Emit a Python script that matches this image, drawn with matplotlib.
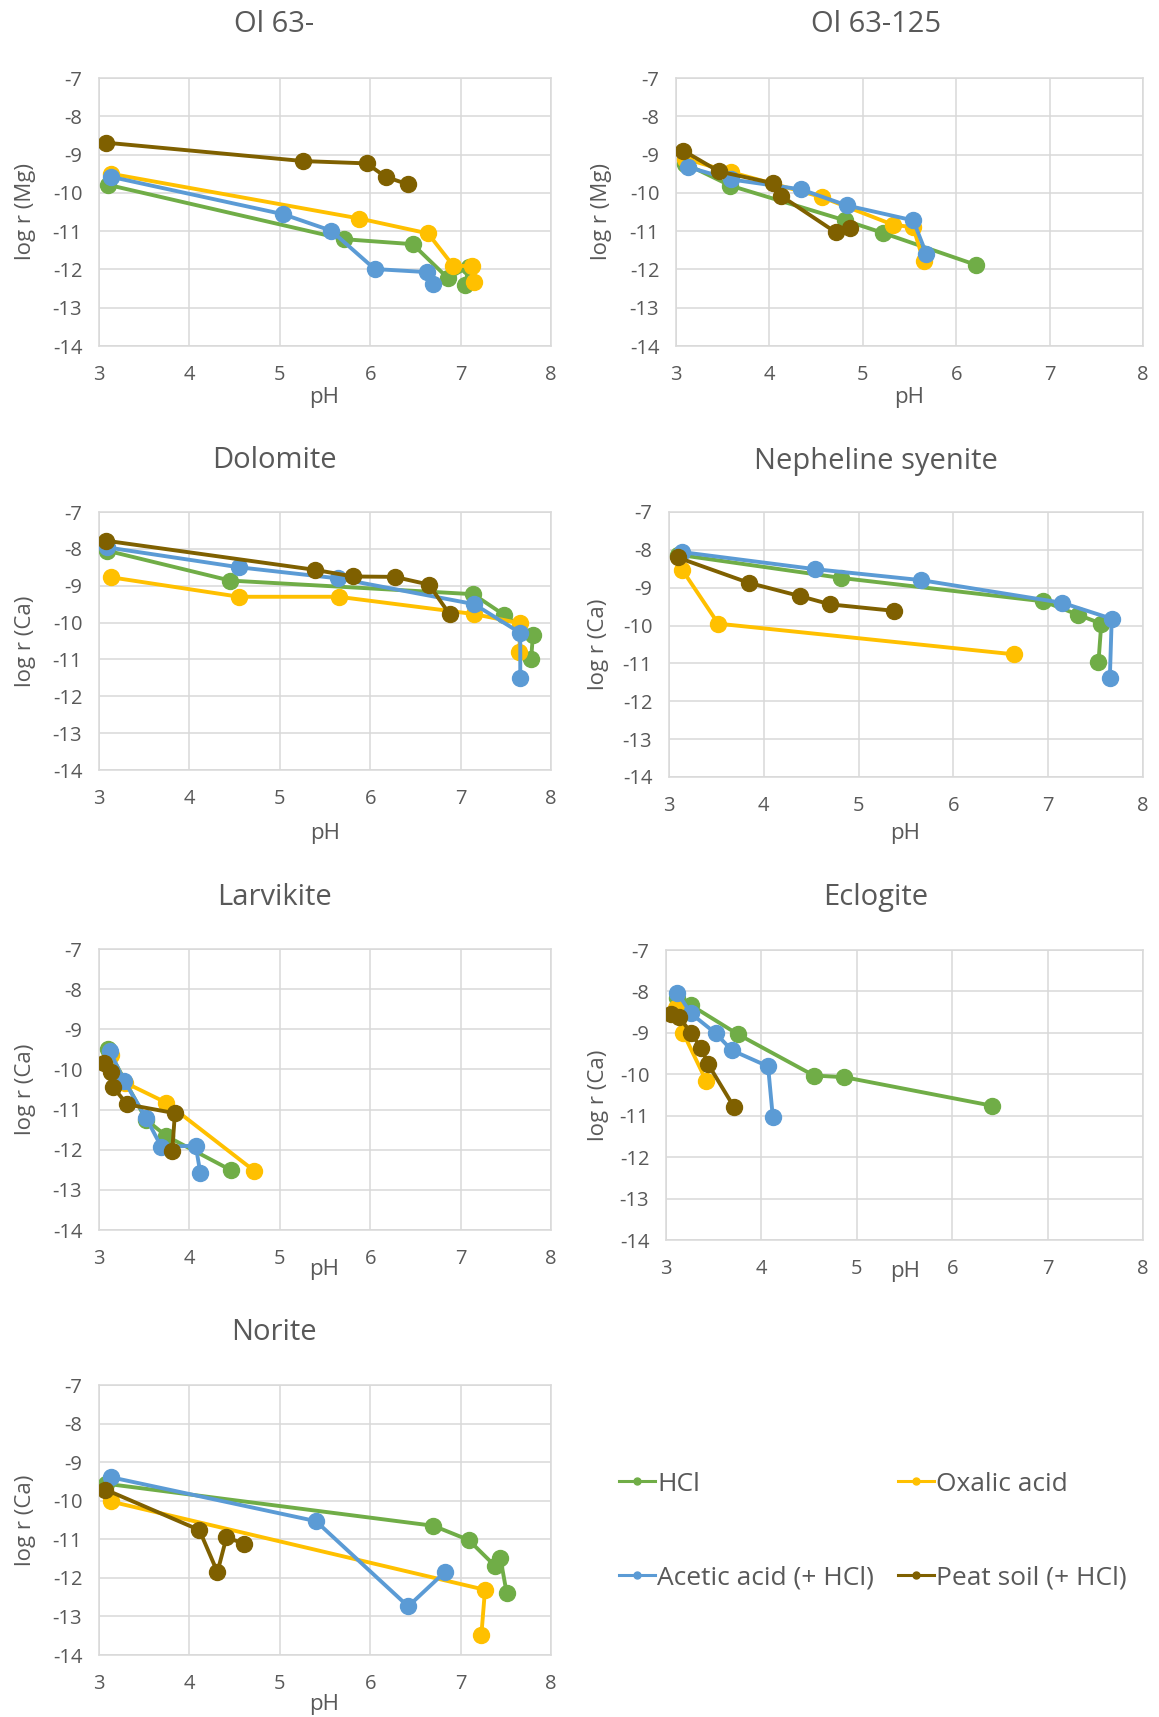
import matplotlib
matplotlib.use('Agg')
import matplotlib.pyplot as plt
from matplotlib.lines import Line2D

plt.rcParams['font.family'] = ['Open Sans', 'DejaVu Sans']
plt.rcParams['axes.unicode_minus'] = False

W, H = 1159, 1717

# series: (pH, log r)
ol63_hcl = ([3.10, 5.71, 6.47, 6.86, 7.09, 7.05], [-9.79, -11.21, -11.34, -12.23, -11.93, -12.40])
ol63_oxa = ([3.13, 5.88, 6.64, 6.92, 7.13, 7.15], [-9.50, -10.67, -11.06, -11.91, -11.91, -12.34])
ol63_ace = ([3.13, 5.04, 5.57, 6.05, 6.63, 6.70], [-9.58, -10.56, -10.99, -11.99, -12.07, -12.38])
ol63_peat = ([3.08, 5.26, 5.96, 6.17, 6.42], [-8.69, -9.17, -9.23, -9.58, -9.78])

ol125_hcl = ([3.10, 3.58, 4.81, 5.22, 6.21], [-9.24, -9.81, -10.72, -11.05, -11.88])
ol125_oxa = ([3.10, 3.59, 4.56, 5.32, 5.54, 5.65], [-9.11, -9.46, -10.11, -10.83, -10.90, -11.78])
ol125_ace = ([3.13, 3.59, 4.34, 4.83, 5.54, 5.68], [-9.33, -9.65, -9.91, -10.33, -10.72, -11.59])
ol125_peat = ([3.08, 3.46, 4.04, 4.12, 4.71, 4.86], [-8.90, -9.44, -9.75, -10.07, -11.03, -10.92])

dol_hcl = ([3.09, 4.45, 7.14, 7.48, 7.80, 7.78], [-8.05, -8.86, -9.23, -9.79, -10.35, -10.98])
dol_oxa = ([3.13, 4.55, 5.65, 7.15, 7.66, 7.65], [-8.77, -9.30, -9.30, -9.77, -10.02, -10.80])
dol_ace = ([3.09, 4.55, 5.64, 7.15, 7.66, 7.66], [-7.96, -8.50, -8.80, -9.50, -10.28, -11.50])
dol_peat = ([3.08, 5.39, 5.81, 6.27, 6.65, 6.88], [-7.78, -8.57, -8.75, -8.76, -8.97, -9.78])

nep_hcl = ([3.10, 4.81, 6.95, 7.31, 7.56, 7.53], [-8.13, -8.74, -9.36, -9.71, -9.95, -10.97])
nep_oxa = ([3.14, 3.52, 6.64], [-8.53, -9.95, -10.76])
nep_ace = ([3.14, 4.54, 5.66, 7.15, 7.67, 7.65], [-8.06, -8.51, -8.80, -9.40, -9.82, -11.39])
nep_peat = ([3.09, 3.84, 4.38, 4.70, 5.37], [-8.20, -8.87, -9.22, -9.44, -9.61])

lar_hcl = ([3.10, 3.52, 3.745, 4.46], [-9.50, -11.25, -11.66, -12.51])
lar_oxa = ([3.13, 3.29, 3.745, 4.72], [-9.65, -10.33, -10.83, -12.53])
lar_ace = ([3.12, 3.28, 3.52, 3.69, 4.07, 4.12], [-9.55, -10.29, -11.20, -11.93, -11.90, -12.57])
lar_peat = ([3.06, 3.135, 3.16, 3.31, 3.84, 3.81], [-9.85, -10.07, -10.45, -10.87, -11.09, -12.02])

ecl_hcl = ([3.12, 3.26, 3.75, 4.55, 4.87, 6.42], [-8.15, -8.33, -9.03, -10.03, -10.07, -10.76])
ecl_oxa = ([3.10, 3.18, 3.42], [-8.40, -9.00, -10.15])
ecl_ace = ([3.12, 3.26, 3.52, 3.69, 4.07, 4.12], [-8.03, -8.53, -9.01, -9.42, -9.81, -11.04])
ecl_peat = ([3.05, 3.14, 3.26, 3.37, 3.44, 3.71], [-8.55, -8.62, -9.00, -9.37, -9.75, -10.78])

nor_hcl = ([3.08, 6.70, 7.09, 7.38, 7.44, 7.51], [-9.56, -10.65, -11.02, -11.69, -11.48, -12.40])
nor_oxa = ([3.13, 7.27, 7.23], [-10.02, -12.31, -13.47])
nor_ace = ([3.13, 5.40, 6.42, 6.83], [-9.39, -10.53, -12.74, -11.84])
nor_peat = ([3.07, 4.11, 4.31, 4.41, 4.60], [-9.71, -10.76, -11.85, -10.95, -11.11])

series_names = ['HCl', 'Oxalic acid', 'Acetic acid (+ HCl)', 'Peat soil (+ HCl)']
colors = ['#70AD47', '#FFC000', '#5B9BD5', '#7F6000']

titles = ['Ol 63-', 'Ol 63-125', 'Dolomite', 'Nepheline syenite', 'Larvikite', 'Eclogite', 'Norite']
ylabels = ['log r (Mg)', 'log r (Mg)', 'log r (Ca)', 'log r (Ca)', 'log r (Ca)', 'log r (Ca)', 'log r (Ca)']
panel_data = [
    [ol63_hcl, ol63_oxa, ol63_ace, ol63_peat],
    [ol125_hcl, ol125_oxa, ol125_ace, ol125_peat],
    [dol_hcl, dol_oxa, dol_ace, dol_peat],
    [nep_hcl, nep_oxa, nep_ace, nep_peat],
    [lar_hcl, lar_oxa, lar_ace, lar_peat],
    [ecl_hcl, ecl_oxa, ecl_ace, ecl_peat],
    [nor_hcl, nor_oxa, nor_ace, nor_peat],
]

# axes boxes in pixels: left, right, top, bottom
boxes = [
    (99, 551, 78, 346), (676, 1143, 78, 346),
    (99, 551, 512, 770), (669, 1143, 512, 777),
    (99, 551, 949, 1230), (666, 1143, 950, 1240),
    (99, 551, 1385, 1655),
]
title_pos = [(274, 24), (876, 24), (274, 461), (876, 461), (274, 897), (876, 897), (274, 1332)]
ylab_x = [36, 612, 36, 609, 36, 609, 36]
ph_pos = [(324, 397), (909, 397), (325, 833), (905, 833), (324, 1269), (905, 1271), (324, 1704)]

txt = '#595959'
grid = '#D9D9D9'

fig = plt.figure(figsize=(W / 100, H / 100), dpi=100)

for i in range(7):
    l, r, t, b = boxes[i]
    ax = fig.add_axes([l / W, 1 - b / H, (r - l) / W, (b - t) / H])
    for k, (xs, ys) in enumerate(panel_data[i]):
        ax.plot(xs, ys, color=colors[k], lw=2.8, marker='o', ms=11.5, zorder=3 + k)
    ax.set_xlim(3, 8)
    ax.set_ylim(-14, -7)
    ax.set_xticks(range(3, 9))
    ax.set_yticks(range(-14, -6))
    ax.grid(True, color=grid, lw=1.1)
    ax.set_axisbelow(True)
    for s in ax.spines.values():
        s.set_color(grid)
        s.set_linewidth(1.1)
    ax.tick_params(length=0, labelsize=14.5, colors=txt)
    ax.tick_params(axis='x', pad=14)
    ax.tick_params(axis='y', pad=12)
    ax.set_ylabel(ylabels[i], fontsize=16, color=txt)
    ax.yaxis.set_label_coords((ylab_x[i] - l) / (r - l), 0.5)
    fig.text(title_pos[i][0] / W, 1 - title_pos[i][1] / H, titles[i], ha='center', va='center',
             fontsize=21, color=txt)
    fig.text(ph_pos[i][0] / W, 1 - ph_pos[i][1] / H, 'pH', ha='center', va='center', fontsize=16, color=txt)

handles = [Line2D([0], [0], color=c, lw=2.2, marker='o', ms=5) for c in colors]
order = [0, 2, 1, 3]
fig.legend([handles[j] for j in order], [series_names[j] for j in order],
           ncol=2, loc='center', bbox_to_anchor=(873 / W, 1 - 1531 / H),
           frameon=False, fontsize=19, labelcolor=txt, handlelength=1.35,
           handletextpad=0.1, columnspacing=0.9, labelspacing=2.6, borderpad=0)

fig.savefig('out.png', dpi=100)
